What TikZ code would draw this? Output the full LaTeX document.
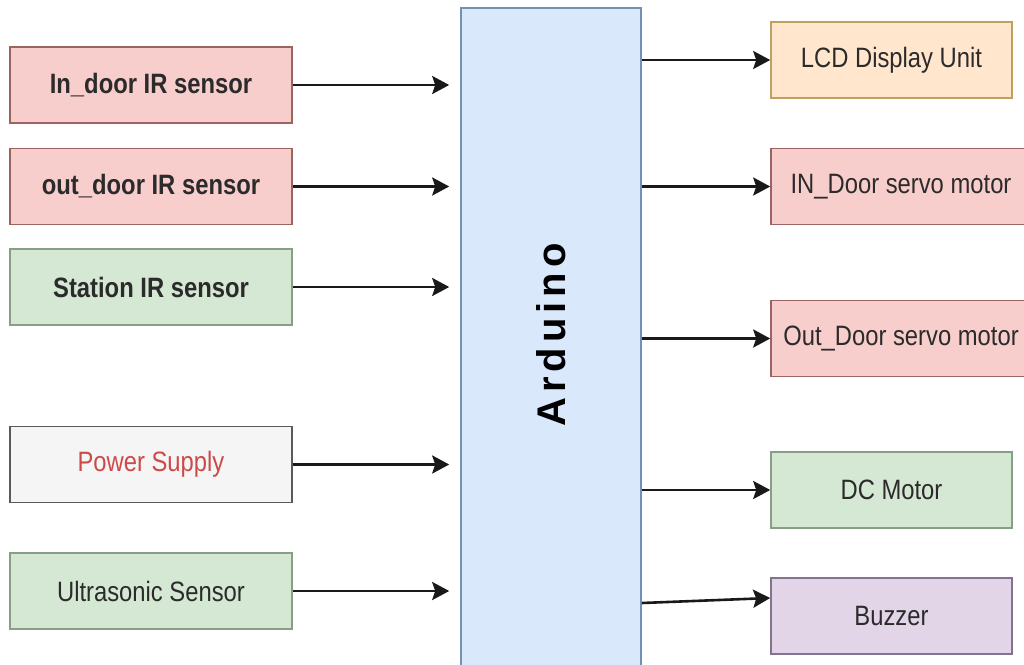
\documentclass[tikz,border=0pt]{standalone}
\usepackage{fontspec}
\setmainfont[FakeStretch=0.85]{Liberation Sans}
\newfontfamily\ardfont[LetterSpace=12.5]{Liberation Sans}
\usetikzlibrary{arrows.meta,calc}
\definecolor{redF}{HTML}{F8CECC}
\definecolor{redD}{HTML}{9A6461}
\definecolor{grnF}{HTML}{D5E8D4}
\definecolor{grnD}{HTML}{86A083}
\definecolor{orgF}{HTML}{FFE6CC}
\definecolor{orgD}{HTML}{BFA060}
\definecolor{purF}{HTML}{E1D5E7}
\definecolor{purD}{HTML}{857290}
\definecolor{gryF}{HTML}{F5F5F5}
\definecolor{gryD}{HTML}{5A5A5A}
\definecolor{bluF}{HTML}{DAE8FC}
\definecolor{bluD}{HTML}{7590B5}
\definecolor{txt}{HTML}{2B2B2B}
\definecolor{pstxt}{HTML}{CC4A4A}
\begin{document}
\begin{tikzpicture}[x=1pt,y=-1pt,
  box/.style={draw, line width=1.6pt, minimum height=76pt, inner sep=0pt,
    font=\fontsize{28}{30}\selectfont, text=txt},
  lbox/.style={box, minimum width=282pt},
  rbox/.style={box, minimum width=241pt},
  wbox/.style={box, minimum width=260pt},
  arr/.style={line width=2.6pt, draw=black!90, -{Stealth[length=17pt,width=18pt,inset=3pt]}}]
\clip (0,0) rectangle (1024,664);
\fill[white] (0,0) rectangle (1024,664);
% Arduino
\node[draw=bluD, fill=bluF, line width=1.6pt, minimum width=180pt, minimum height=664pt, inner sep=0pt] (ard) at (551,340) {};
\node[rotate=90, font=\ardfont\fontsize{40}{44}\selectfont\bfseries, text=black] (ardt) at (551,335) {Arduino};
% left inputs
\node[lbox, fill=redF, draw=redD, font=\fontsize{28}{30}\selectfont\bfseries] (b1) at (151,85) {In\_door IR sensor};
\node[lbox, fill=redF, draw=redD, font=\fontsize{28}{30}\selectfont\bfseries] (b2) at (151,186.5) {out\_door IR sensor};
\node[lbox, fill=grnF, draw=grnD, font=\fontsize{28}{30}\selectfont\bfseries] (b3) at (151,287) {Station IR sensor};
\node[lbox, fill=gryF, draw=gryD, text=pstxt] (b4) at (151,464.5) {Power Supply};
\node[lbox, fill=grnF, draw=grnD] (b5) at (151,591) {Ultrasonic Sensor};
% right outputs
\node[rbox, fill=orgF, draw=orgD] (lcd) at (891.5,60) {LCD Display Unit};
\node[wbox, fill=redF, draw=redD] (ind) at (901,186.5) {IN\_Door servo motor};
\node[wbox, fill=redF, draw=redD] (outd) at (901,338.5) {Out\_Door servo motor};
\node[rbox, fill=grnF, draw=grnD] (dc) at (891.5,490) {DC Motor};
\node[rbox, fill=purF, draw=purD] (buz) at (891.5,616) {Buzzer};
% input arrows
\foreach \b in {b1,b2,b3,b4,b5}
  \draw[arr, shorten >=11pt] (\b.east) -- (\b.east -| ard.west);
% output arrows
\foreach \b in {lcd,ind,outd,dc}
  \draw[arr] (\b.west -| ard.east) -- (\b.west);
\draw[arr] ($(ard.east |- buz.west)+(0,-13)$) -- ($(buz.west)+(0,-18)$);
\end{tikzpicture}
\end{document}
